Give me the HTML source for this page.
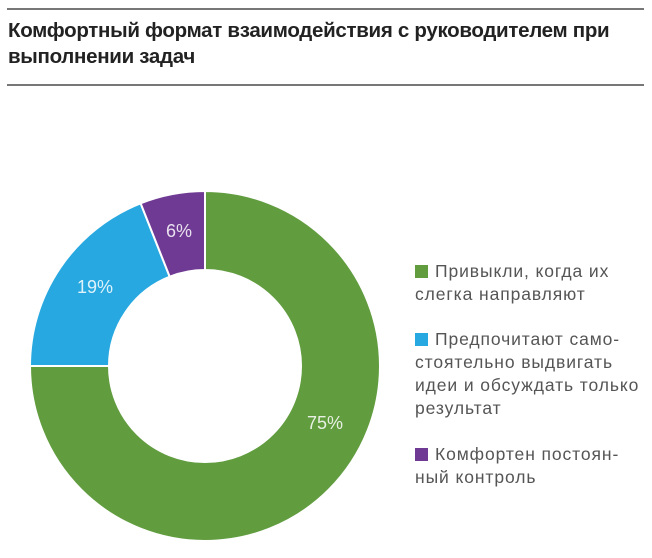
<!DOCTYPE html>
<html><head><meta charset="utf-8"><style>
body{margin:0;width:652px;height:558px;background:#fff;position:relative;overflow:hidden;font-family:"Liberation Sans","DejaVu Sans",sans-serif}
.hr{position:absolute;left:7px;width:637px;height:2px;background:#777}
.title{position:absolute;left:8px;top:18px;font-size:20.5px;font-weight:bold;line-height:26px;color:#222;letter-spacing:-0.3px}
.leg{position:absolute;left:415px;font-size:17.5px;line-height:23px;color:#555;letter-spacing:0.9px}
.sq{display:inline-block;width:13px;height:13px;margin-right:7px;vertical-align:-1px}
</style></head><body>
<div class="hr" style="top:8px"></div>
<div class="title">Комфортный формат взаимодействия с руководителем при<br>выполнении задач</div>
<div class="hr" style="top:84px"></div>
<svg width="652" height="558" style="position:absolute;left:0;top:0">
<g stroke="#fff" stroke-width="2">
<path d="M205,191 A175,175 0 1 1 30,366 L109,366 A96,96 0 1 0 205,270 Z" fill="#619c3f"/>
<path d="M30,366 A175,175 0 0 1 140.6,203.3 L169.7,276.7 A96,96 0 0 0 109,366 Z" fill="#27a8e0"/>
<path d="M140.6,203.3 A175,175 0 0 1 205,191 L205,270 A96,96 0 0 0 169.7,276.7 Z" fill="#6f3a93"/>
</g>
<g fill="#fff" fill-opacity="0.85" font-size="18" text-anchor="middle" font-family="Liberation Sans,sans-serif">
<text x="179" y="237">6%</text>
<text x="95" y="293">19%</text>
<text x="325" y="429">75%</text>
</g>
</svg>
<div class="leg" style="top:260px"><span class="sq" style="background:#619c3f"></span>Привыкли, когда их<br>слегка направляют</div>
<div class="leg" style="top:328px"><span class="sq" style="background:#27a8e0"></span>Предпочитают само-<br>стоятельно выдвигать<br>идеи и обсуждать только<br>результат</div>
<div class="leg" style="top:443px"><span class="sq" style="background:#6f3a93"></span>Комфортен постоян-<br>ный контроль</div>
</body></html>
